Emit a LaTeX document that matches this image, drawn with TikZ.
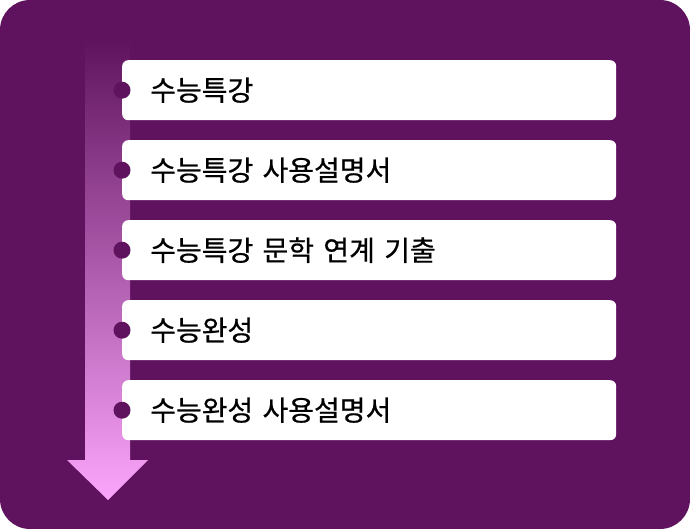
\documentclass[tikz,border=0pt]{standalone}
\usepackage{fontspec}
\newfontfamily\krfont{Noto Sans CJK KR}[FakeBold=0.6]
\usepackage{tikz}
\usetikzlibrary{positioning}
\definecolor{bgpurple}{RGB}{95,19,94}
\definecolor{arrowpink}{RGB}{252,165,252}
\tikzset{
  itembox/.style = {fill=white, rounded corners=6pt, minimum width=494pt, minimum height=60pt,
                    text width=438pt, inner xsep=28pt, inner ysep=0pt, align=left,
                    font=\krfont\fontsize{28}{32}\selectfont, anchor=north west},
  bullet/.style  = {circle, fill=bgpurple, minimum size=17pt, inner sep=0pt},
}
\begin{document}
\begin{tikzpicture}[x=1pt,y=-1pt]
  \useasboundingbox (0,0) rectangle (690,529);
  \fill[bgpurple, rounded corners=30pt] (0,0) rectangle (690,529);
  % arrow
  \shade[top color=bgpurple, bottom color=arrowpink]
    (85,40) -- (130,40) -- (130,460) -- (148,460) -- (108,500) -- (67,460) -- (85,460) -- cycle;
  \foreach \i/\t in {0/수능특강, 1/수능특강 사용설명서, 2/수능특강 문학 연계 기출,
                     3/수능완성, 4/수능완성 사용설명서}{
    \node[itembox] (item\i) at (122,{60+80*\i}) {\t};
    \node[bullet] (dot\i) at (item\i.west) {};}
\end{tikzpicture}
\end{document}
